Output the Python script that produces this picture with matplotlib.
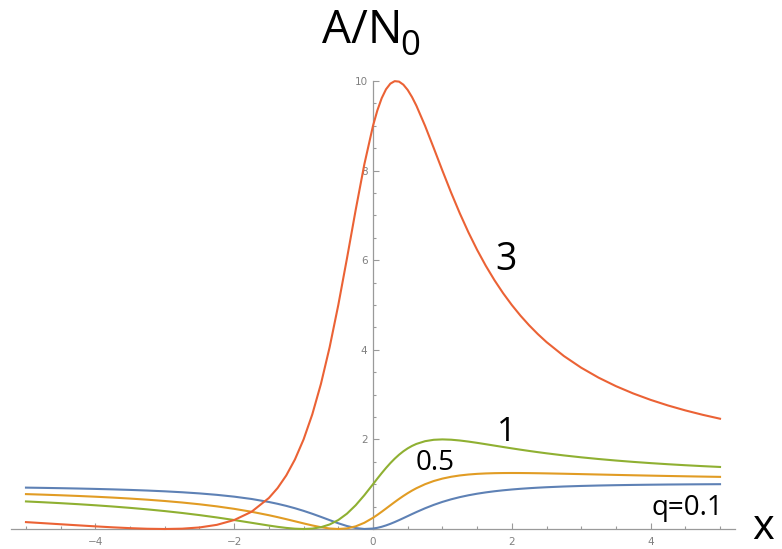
import matplotlib
matplotlib.use("Agg")
import matplotlib.pyplot as plt
from matplotlib.ticker import MultipleLocator, FixedLocator

# x sample positions and curve values
x_vals = [-5, -4.75, -4.5, -4.25, -4, -3.75, -3.5, -3.25, -3, -2.75, -2.5, -2.25, -2,
          -1.75, -1.5, -1.375, -1.25, -1.125, -1, -0.875, -0.75, -0.625, -0.5, -0.375,
          -0.25, -0.125, 0, 0.0625, 0.125, 0.1875, 0.25, 0.3125, 0.375, 0.4375, 0.5,
          0.5625, 0.625, 0.75, 0.875, 1, 1.125, 1.25, 1.375, 1.5, 1.625, 1.75, 1.875,
          2, 2.125, 2.25, 2.375, 2.5, 2.75, 3, 3.25, 3.5, 3.75, 4, 4.25, 4.5, 4.75, 5]

q01 = [0.9235, 0.9177, 0.9111, 0.9035, 0.8947, 0.8845, 0.8725, 0.8582, 0.841, 0.8201,
       0.7945, 0.7625, 0.722, 0.6702, 0.6031, 0.5624, 0.5161, 0.4637, 0.405, 0.3402,
       0.2704, 0.1982, 0.128, 0.0663, 0.0212, 0.0006, 0.01, 0.0263, 0.0498, 0.0798,
       0.1153, 0.155, 0.1978, 0.2425, 0.288, 0.3334, 0.378, 0.4624, 0.5384, 0.605,
       0.6623, 0.7112, 0.7526, 0.7877, 0.8173, 0.8425, 0.8638, 0.882, 0.8976, 0.9109,
       0.9224, 0.9324, 0.9486, 0.961, 0.9706, 0.9781, 0.9841, 0.9888, 0.9927, 0.9958,
       0.9983, 1.0004]

q05 = [0.7788, 0.7666, 0.7529, 0.7377, 0.7206, 0.7012, 0.6792, 0.6541, 0.625, 0.5912,
       0.5517, 0.5052, 0.45, 0.3846, 0.3077, 0.2649, 0.2195, 0.1724, 0.125, 0.0796,
       0.04, 0.0112, 0.0, 0.0137, 0.0588, 0.1385, 0.25, 0.3152, 0.3846, 0.4566,
       0.5294, 0.6014, 0.6712, 0.7377, 0.8, 0.8576, 0.9101, 1.0, 1.0708, 1.125,
       1.1655, 1.1951, 1.2162, 1.2308, 1.2403, 1.2462, 1.2491, 1.25, 1.2493, 1.2474,
       1.2447, 1.2414, 1.2336, 1.225, 1.2162, 1.2075, 1.1992, 1.1912, 1.1836, 1.1765,
       1.1698, 1.1635]

q1 = [0.6154, 0.5968, 0.5765, 0.5541, 0.5294, 0.5021, 0.4717, 0.4378, 0.4, 0.3577,
      0.3103, 0.2577, 0.2, 0.1385, 0.0769, 0.0486, 0.0244, 0.0069, 0.0, 0.0088,
      0.04, 0.1011, 0.2, 0.3425, 0.5294, 0.7538, 1.0, 1.1245, 1.2462, 1.3623,
      1.4706, 1.5694, 1.6575, 1.7344, 1.8, 1.8546, 1.8989, 1.96, 1.9912, 2.0,
      1.9931, 1.9756, 1.9514, 1.9231, 1.8927, 1.8615, 1.8304, 1.8, 1.7705, 1.7423,
      1.7153, 1.6897, 1.6423, 1.6, 1.5622, 1.5283, 1.4979, 1.4706, 1.4459, 1.4235,
      1.4032, 1.3846]

q3 = [0.1538, 0.13, 0.1059, 0.082, 0.0588, 0.0373, 0.0189, 0.0054, 0.0, 0.0073,
      0.0345, 0.0928, 0.2, 0.3846, 0.6923, 0.9135, 1.1951, 1.5517, 2.0, 2.5575,
      3.24, 4.0562, 5.0, 6.0411, 7.1176, 8.1385, 9.0, 9.3424, 9.6154, 9.8151,
      9.9412, 9.9964, 9.9863, 9.918, 9.8, 9.6409, 9.4494, 9.0, 8.5044, 8.0,
      7.5103, 7.0488, 6.6216, 6.2308, 5.8755, 5.5538, 5.263, 5.0, 4.762, 4.5464,
      4.3506, 4.1724, 3.8613, 3.6, 3.3784, 3.1887, 3.0249, 2.8824, 2.7574, 2.6471,
      2.549, 2.4615]

series = [q01, q05, q1, q3]
colors = ["#5E81B5", "#E19C24", "#8FB032", "#EB6235"]
for s in series:
    assert len(s) == len(x_vals), (len(s), len(x_vals))

x_major = [-4, -2, 0, 2, 4]
y_major = [2, 4, 6, 8, 10]

W, H = 782, 549
fig = plt.figure(figsize=(W / 100, H / 100), dpi=100)
left_px, right_px, bottom_px, top_px = 11.4, 734.6, 529, 81
ax = fig.add_axes([left_px / W, 1 - bottom_px / H,
                   (right_px - left_px) / W, (bottom_px - top_px) / H])
ax.set_xlim(-5.21, 5.21)
ax.set_ylim(0, 10)

for ys, c in zip(series, colors):
    ax.plot(x_vals, ys, color=c, lw=1.5, clip_on=False, solid_joinstyle="round", zorder=3)

axis_gray = "#9a9a9a"
for s in ["top", "right"]:
    ax.spines[s].set_visible(False)
ax.spines["left"].set_position(("data", 0))
ax.spines["bottom"].set_position(("data", 0))
ax.spines["left"].set_bounds(0, 10)
for s in ["left", "bottom"]:
    ax.spines[s].set_color(axis_gray)
    ax.spines[s].set_linewidth(0.9)
    ax.spines[s].set_zorder(1)

ax.xaxis.set_major_locator(FixedLocator(x_major))
ax.yaxis.set_major_locator(FixedLocator(y_major))
ax.xaxis.set_minor_locator(MultipleLocator(0.5))
ax.yaxis.set_minor_locator(MultipleLocator(0.5))
ax.tick_params(which="both", direction="in", color=axis_gray, width=0.8)
ax.tick_params(which="major", length=4)
ax.tick_params(which="minor", length=2.5)
ax.tick_params(axis="x", which="major", pad=6, labelsize=7.5, labelcolor="#808080")
ax.tick_params(axis="y", which="major", pad=4, labelsize=7.5, labelcolor="#808080")
ax.set_xticklabels([str(v) if v >= 0 else "\u2212" + str(-v) for v in x_major])
ax.set_yticklabels([str(v) for v in y_major])

fnt = "Open Sans"
def ptext(px, py, s, size, ha="center"):
    fig.text(px / W, 1 - py / H, s, fontsize=size, ha=ha, va="baseline",
             family=fnt, color="black")

ptext(322, 43, "A/N", 33, ha="left")
ptext(400, 55, "0", 25, ha="left")
ptext(763, 539, "x", 30)
ptext(506, 270, "3", 27)
ptext(507, 441, "1", 24)
ptext(435, 470, "0.5", 20)
ptext(687, 515, "q=0.1", 20)

fig.savefig("out.png", dpi=100)
